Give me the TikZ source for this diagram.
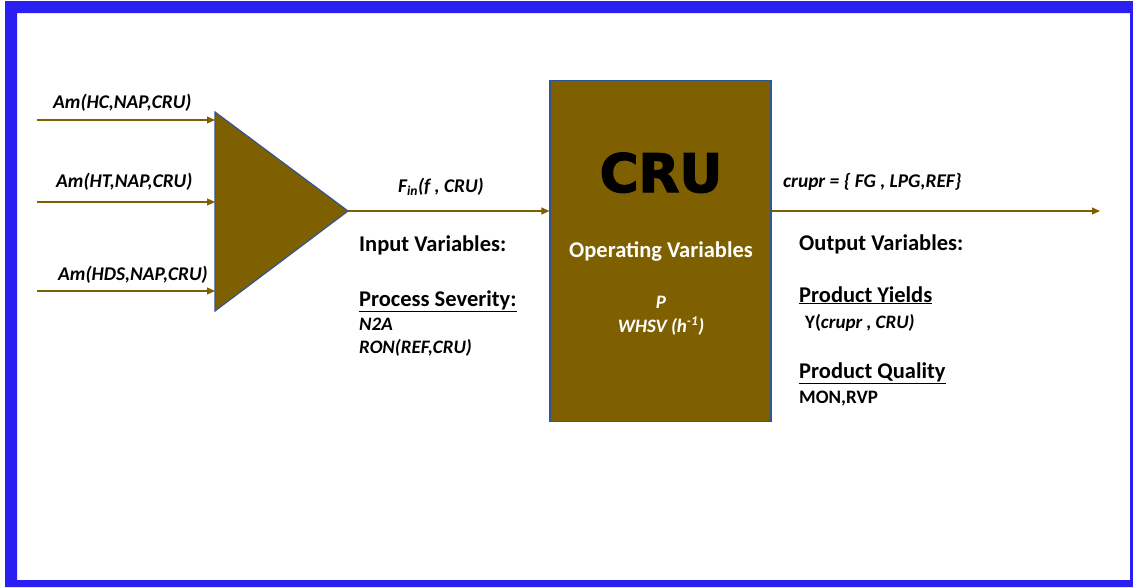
\documentclass[tikz,border=0pt]{standalone}
\usepackage{fontspec}
\setmainfont{Carlito}
\newfontfamily\heavyfont[BoldFeatures={FakeBold=2.5}]{DejaVu Sans}
\usetikzlibrary{arrows.meta}
\definecolor{frameblue}{RGB}{43,30,240}
\definecolor{unitbrown}{RGB}{127,96,0}
\definecolor{edgeblue}{RGB}{47,85,151}
\tikzset{
  flow/.style={draw=unitbrown, line width=1.1pt, -{Triangle[length=8pt,width=7pt]}},
  lab/.style={anchor=base west, inner sep=0pt, font=\fontsize{19.4}{22}\selectfont\bfseries\itshape},
  head/.style={anchor=base west, inner sep=0pt, font=\fontsize{22.5}{26}\selectfont\bfseries},
  small/.style={anchor=base west, inner sep=0pt, font=\fontsize{19}{22}\selectfont\bfseries\itshape},
  unit/.style={draw=edgeblue, line width=1.2pt, fill=unitbrown}
}
\begin{document}
\begin{tikzpicture}[x=1pt,y=-1pt]
\useasboundingbox (0,0) rectangle (1133,587);
% outer frame
\fill[frameblue, even odd rule] (5,1) rectangle (1133,587) (17,13) rectangle (1130,580);

% mixer triangle
\coordinate (t1) at (215,112);
\coordinate (t2) at (215,311);
\coordinate (apex) at (348,211);
\draw[unit, line join=miter] (t1) -- (apex) -- (t2) -- cycle;
\coordinate (in1) at (215,120);
\coordinate (in2) at (215,202);
\coordinate (in3) at (215,291);
\coordinate (s1) at (37,120);
\coordinate (s2) at (37,202);
\coordinate (s3) at (37,291);
\draw[flow] (s1) -- (in1);
\draw[flow] (s2) -- (in2);
\draw[flow] (s3) -- (in3);
\node[lab] (l1) at (53,108) {Am(HC,NAP,CRU)};
\node[lab] (l2) at (56,187) {Am(HT,NAP,CRU)};
\node[lab] (l3) at (58,280) {Am(HDS,NAP,CRU)};

% reactor unit
\node[unit, rectangle, minimum width=221pt, minimum height=341pt, inner sep=0pt] (cru) at (660.5,251) {};
\node[anchor=base, inner sep=0pt, font=\heavyfont\fontsize{53}{56}\selectfont\bfseries] (crut) at (661,192) {CRU};
\node[anchor=base, inner sep=0pt, text=white, font=\fontsize{22.5}{26}\selectfont\bfseries] (opv) at (661,257) {Operating Variables};
\node[anchor=base, inner sep=0pt, text=white, font=\fontsize{19}{22}\selectfont\bfseries\itshape] (pv) at (661,308) {P};
\node[anchor=base, inner sep=0pt, text=white, font=\fontsize{19}{22}\selectfont\bfseries\itshape] (whsv) at (661,332) {WHSV (h\textsuperscript{-1})};

% feed into the unit
\draw[flow] (apex) -- (cru.west |- apex);
\node[lab, anchor=base] (fin) at (441,192) {F\textsubscript{in}(f , CRU)};
\node[head] (inv) at (359,251) {Input Variables:};
\node[head] (ps) at (359,306) {\underline{Process Severity:}};
\node[small] (n2a) at (359,330) {N2A};
\node[small] (ron) at (359,353) {RON(REF,CRU)};

% products out of the unit
\coordinate (out) at (1100,211);
\draw[flow] (cru.east |- out) -- (out);
\node[lab] (crupr) at (783,187) {crupr = \{ FG , LPG,REF\}};
\node[head] (outv) at (799,250) {Output Variables:};
\node[head] (py) at (799,302) {\underline{Product Yields}};
\node[small] (yv) at (805,328) {\upshape Y(\itshape crupr , CRU)};
\node[head] (pq) at (799,378) {\underline{Product Quality}};
\node[small, font=\fontsize{19}{22}\selectfont\bfseries] (mon) at (799,403) {MON,RVP};
\end{tikzpicture}
\end{document}
